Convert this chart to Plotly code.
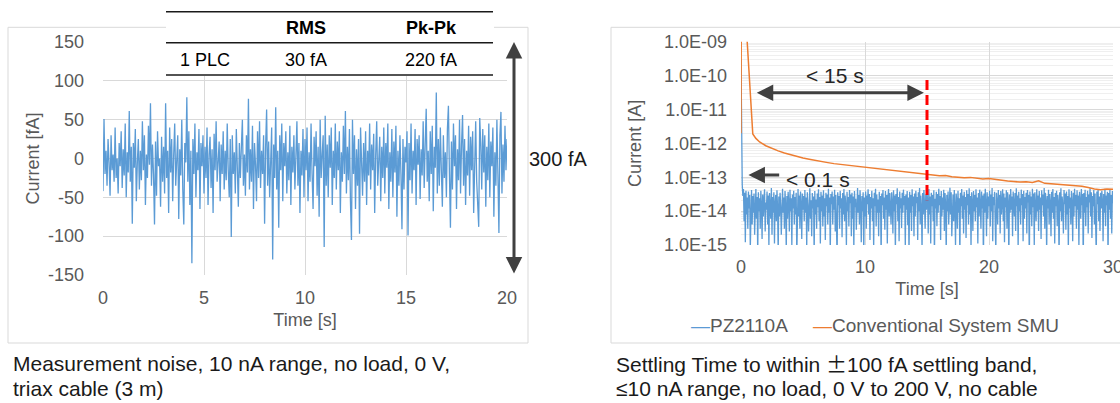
import numpy as np
import plotly.graph_objects as go

W, H = 1120, 403
BLUE = "#5B9BD5"
ORANGE = "#ED7D31"
GRID = "#D9D9D9"
GRAY = "#595959"
DARK = "#404040"
FONT = "Liberation Sans, Arial, sans-serif"

# ---------------- data: measurement noise (left) ----------------
noise_dt = 0.05
noise_fA = [
    -42, 51, -20, 10, -35, 25, -5, -48, 30, -15, 5, -30, 40, -25, 0, -45, 20, -10, 35, -38,
    12, -22, 45, -50, 8, -18, 61, -30, 15, -84, 20, -12, 38, -55, -5, 25, -40, 10, -28, 48,
    -15, 30, -60, 5, -25, 42, -8, 71, -35, 18, -20, -85, 22, -48, 35, -10, 0, -62, 28, -30,
    15, -45, 71, -25, 10, -70, 40, -18, 25, -55, 5, 45, -35, -8, 30, -78, 12, -22, 50, -40,
    -85, 20, -5, 79, -30, 35, -60, 10, -135, 25, -20, 45, -50, 8, -15, 38, -65, 20, -10, 30,
    -45, 15, -25, 40, -60, 5, 28, -38, 12, -70, 32, -15, 48, -30, -5, 22, -55, 18, -20, 35,
    -40, 10, -28, 45, -15, -50, 25, -101, 30, -20, 8, -45, 38, -10, -62, 20, -25, 15, 50, -35,
    5, -48, 30, -18, 77, -40, 12, -30, 42, -65, 20, -8, -55, 35, -25, 48, -38, 10, -20, 30,
    -84, 15, 63, -35, 22, -50, 5, 40, -130, 18, -25, 66, -40, 10, -89, 30, -15, 45, -55, 20,
    -10, 35, -45, 8, -28, 42, -60, 15, -18, 30, -40, 5, 48, -35, 20, -70, 10, -22, 38, -50,
    25, -15, 40, -55, 8, -30, 45, -20, -65, 28, -10, 35, -48, 15, -75, 50, -25, 5, 30, -114,
    55, -35, 18, -50, 30, -12, 40, -60, 10, -25, 45, -40, 22, -15, 35, -70, 8, -30, 42, -20,
    61, -45, 15, -28, 38, -55, -105, 50, -20, 30, -65, 12, -35, 25, -97, 40, -10, -48, 20, -30,
    35, -60, 10, -22, 45, -40, 18, -15, 32, -70, 5, 48, -35, -8, 28, -55, 15, -25, 40, -45,
    20, -12, 45, -65, 8, -30, 38, -50, 22, -18, 42, -75, 10, -35, 30, -20, -91, 25, -40, 15,
    -5, 35, -99, 20, -28, 45, -45, 10, -15, 38, -60, 25, -8, 30, -52, 12, -22, 48, -38, 18,
    64, -30, 10, -55, 35, -20, 42, -68, 15, -12, 85, -45, 25, -35, 40, -15, -62, 30, -25, 8,
    -50, 38, 68, -20, -89, 22, -40, 45, -10, 30, -65, 12, -28, 50, -45, 18, 56, -35, 25, -60,
    10, -22, 42, -48, 28, -15, 35, -70, 5, 48, -30, -55, -88, 52, 20, -40, 38, -18, 30, -62,
    15, -28, 45, -50, 22, -10, 40, -75, 8, -35, 50, -20, -96, 30, 60, -45, 18, -30, 42, -15,
    25,
]
noise_time = np.arange(len(noise_fA)) * noise_dt

# ---------------- data: settling (right) ----------------
settle_dt = 0.05
pz_fA = [
    300000,
    95, 60, 28, 45, 5, 35, 1.2, 40, 8, 25, 3, 38, 12, 30, 0.8, 18, 42, 4, 28, 9,
    33, 2, 14, 45, 6, 26, 0.5, 36, 10, 24, 3, 40, 15, 1.5, 31, 7, 22, 44, 2.5, 18,
    11, 38, 4, 29, 0.9, 34, 13, 6, 48, 2, 26, 9, 36, 1.1, 16, 30, 5, 41, 12, 0.6,
    27, 7, 35, 15, 2, 32, 46, 9, 25, 3, 39, 14, 0.7, 28, 6, 37, 18, 2.5, 43, 10,
    24, 1, 31, 12, 40, 4, 26, 8, 35, 0.5, 17, 45, 7, 29, 3, 38, 15, 1.5, 33, 11,
    28, 5, 42, 9, 25, 0.8, 36, 16, 2.5, 30, 47, 6, 21, 1.8, 34, 12, 27, 0.5, 39, 8,
    22, 3, 33, 13, 44, 5, 26, 1.1, 37, 10, 29, 3.5, 41, 7, 24, 1.4, 35, 14, 31, 4,
    46, 9, 25, 0.6, 32, 16, 38, 4, 27, 11, 43, 2.5, 30, 7, 0.4, 36, 15, 28, 3, 40,
    12, 24, 1.7, 34, 8, 45, 5, 29, 14, 0.9, 37, 10, 26, 3.5, 42, 17, 31, 1.8, 35, 6,
    27, 0.7, 39, 13, 23, 2.8, 33, 48, 9, 30, 4, 41, 15, 1.2, 28, 10, 36, 0.5, 25, 7,
    38, 3, 29, 16, 44, 8, 32, 1.4, 26, 12, 40, 5, 24, 0.8, 35, 14, 46, 3.5, 31, 9,
    22, 1.8, 37, 9, 28, 0.4, 33, 15, 42, 6, 25, 2.8, 39, 11, 30, 1.1, 27, 45, 7, 34,
    13, 4, 36, 18, 2.2, 41, 10, 29, 0.6, 32, 16, 47, 5, 26, 1.3, 38, 12, 24, 3.2, 35,
    9, 43, 15, 28, 0.9, 31, 11, 39, 3.8, 25, 0.5, 37, 9, 30, 2.6, 44, 14, 27, 1.8, 33,
    7, 40, 17, 26, 1.4, 36, 10, 48, 4, 29, 13, 0.7, 34, 8, 42, 16, 3, 31, 11, 38,
    19, 2.2, 45, 8, 27, 1.1, 35, 14, 30, 5, 41, 0.4, 23, 12, 37, 3.6, 32, 9, 46, 15,
    28, 1.4, 39, 7, 25, 11, 43, 2.6, 34, 16, 0.6, 30, 10, 38, 4, 26, 49, 8, 36, 1.8,
    22, 31, 5, 42, 13, 0.9, 33, 21, 3, 40, 9, 24, 0.4, 35, 14, 45, 6, 29, 2.2, 37,
    11, 26, 1.6, 41, 15, 32, 4, 47, 8, 28, 0.8, 36, 18, 2.6, 39, 10, 30, 5, 44, 13,
    25, 1.1, 34, 7, 43, 16, 3, 38, 12, 29, 0.3, 33, 9, 46, 17, 1.8, 36, 6, 27, 14,
    40, 3.5, 31, 10, 48, 1.3, 26, 15, 37, 7, 0.6, 35, 19, 4, 42, 12, 30, 2.2, 39, 8,
    28, 44, 5, 33, 1.2, 25, 13, 41, 3, 36, 17, 0.4, 31, 9, 45, 11, 27, 1.8, 38, 16,
    7, 34, 2.6, 47, 14, 29, 0.8, 37, 10, 24, 4, 43, 15, 32, 1.3, 40, 6, 26, 12, 35,
    2.2, 42, 18, 30, 0.3, 38, 8, 27, 3.6, 46, 13, 33, 1, 36, 16, 5, 44, 10, 29, 2.6,
    39, 11, 25, 1.5, 41, 15, 31, 7, 48, 3, 35, 19, 0.6, 28, 12, 43, 4, 32, 17, 1.8,
    37, 9, 45, 6, 26, 1.1, 34, 14, 40, 3.6, 30, 18, 0.4, 36, 10, 47, 5, 27, 13, 2.2,
    42, 16, 33, 2.8, 38, 8, 28, 0.7, 44, 12, 25, 4, 39, 17, 1.3, 35, 7, 46, 14, 30,
    3, 41, 11, 29, 0.9, 37, 19, 6, 45, 15, 32, 0.3, 34, 9, 43, 3.6, 26, 13, 40, 2.2,
    31, 18, 47, 7, 36, 1.6, 28, 14, 42, 4, 33, 10, 0.5, 38, 16, 44, 5, 27, 2.6, 35,
    12, 40, 20, 1.3, 32, 9, 46, 3.6, 29, 15, 37, 0.4, 34, 11, 43, 6, 30, 2.2, 39, 17,
]
pz_time = np.arange(len(pz_fA)) * settle_dt

conv_time = [0, 0.02, 0.45, 0.95, 1.2, 1.5, 2, 2.5, 3, 3.5, 4, 4.5, 5, 5.5, 6, 6.5, 7, 7.5,
             8, 8.5, 9, 9.5, 10, 10.5, 11, 11.5, 12, 12.5, 13, 13.5, 14, 14.5, 15, 15.5,
             16, 16.5, 17, 17.5, 18, 18.5, 19, 19.5, 20, 20.5, 21, 21.5, 22, 22.5, 23,
             23.5, 24, 24.5, 25, 25.5, 26, 26.5, 27, 27.5, 28, 28.5, 29, 29.5, 30]
conv_fA = [2000, 2000000, 2000000, 1900, 1400, 1100, 850, 700, 600, 520, 460, 410, 370, 340,
           310, 290, 270, 252, 240, 228, 215, 205, 196, 185, 176, 168, 160, 152, 148, 140,
           135, 128, 122, 118, 110, 112, 103, 100, 96, 99, 92, 88, 92, 86, 82, 78, 75, 72,
           73, 70, 78, 66, 64, 62, 60, 57, 56, 54, 50, 45, 43, 45, 44]

settle_mark_time = [15, 15]
settle_mark_A = [7.4e-11, 2.1e-14]

left_yticks = [-150, -100, -50, 0, 50, 100, 150]
left_yticktext = ["-150", "-100", "-50", "0", "50", "100", "150"]
right_yticks = [1e-15, 1e-14, 1e-13, 1e-12, 1e-11, 1e-10, 1e-9]
right_yticktext = ["1.0E-15", "1.0E-14", "1.0E-13", "1.0E-12", "1.0E-11", "1.0E-10", "1.0E-09"]

table_header = ["", "RMS", "Pk-Pk"]
table_row = ["1 PLC", "30 fA", "220 fA"]


def px(x):
    return x / W


def py(y):
    return 1 - y / H


fig = go.Figure()
fig.add_trace(go.Scatter(x=noise_time, y=noise_fA, mode="lines", name="Noise",
                         line=dict(color=BLUE, width=1.3), xaxis="x", yaxis="y",
                         showlegend=False))
fig.add_trace(go.Scatter(x=pz_time, y=np.array(pz_fA) * 1e-15, mode="lines", name="PZ2110A",
                         line=dict(color=BLUE, width=1.3), xaxis="x2", yaxis="y2",
                         showlegend=False))
fig.add_trace(go.Scatter(x=conv_time, y=np.array(conv_fA) * 1e-15, mode="lines",
                         name="Conventional System SMU",
                         line=dict(color=ORANGE, width=1.5), xaxis="x2", yaxis="y2",
                         showlegend=False))
fig.add_trace(go.Scatter(x=settle_mark_time, y=settle_mark_A, mode="lines", name="15 s",
                         line=dict(color="#FF0000", width=3, dash="10px,5px"),
                         xaxis="x2", yaxis="y2", showlegend=False))

tickfont = dict(family=FONT, size=18, color=GRAY)
titlefont = dict(family=FONT, size=18, color=GRAY)
axcommon = dict(showgrid=True, gridcolor=GRID, gridwidth=1, zeroline=False, ticks="",
                showline=False, tickfont=tickfont, automargin=False,
                ticklabeloverflow="allow")

fig.update_layout(
    width=W, height=H, margin=dict(l=0, r=0, t=0, b=0),
    paper_bgcolor="white", plot_bgcolor="rgba(0,0,0,0)",
    showlegend=False,
    xaxis=dict(domain=[px(103), px(507)], range=[0, 20], tickmode="linear", tick0=0, dtick=5,
               anchor="y", ticklabelstandoff=10,
               title=dict(text="Time [s]", font=titlefont, standoff=6), **axcommon),
    yaxis=dict(domain=[py(275), py(42)], range=[-150, 150], tickmode="array",
               tickvals=left_yticks, ticktext=left_yticktext, anchor="x",
               ticklabelstandoff=18,
               title=dict(text="Current [fA]", font=titlefont, standoff=3), **axcommon),
    xaxis2=dict(domain=[px(741), px(1113)], range=[0, 30], tickmode="linear", tick0=0, dtick=10,
                anchor="y2", ticklabelstandoff=9,
                title=dict(text="Time [s]", font=titlefont, standoff=6), **axcommon),
    yaxis2=dict(domain=[py(245), py(41.7)], type="log", range=[-15, -9], tickmode="array",
                tickvals=right_yticks, ticktext=right_yticktext, anchor="x2",
                ticklabelstandoff=13,
                minor=dict(showgrid=True, gridcolor="#EFEFEF", dtick="D1", ticks=""),
                title=dict(text="Current [A]", font=titlefont, standoff=17), **axcommon),
)

shapes = [
    # chart frames
    dict(type="rect", xref="paper", yref="paper", x0=px(8), x1=px(528), y0=py(343), y1=py(27.3),
         line=dict(color=GRID, width=1), fillcolor="rgba(0,0,0,0)", layer="below"),
    dict(type="rect", xref="paper", yref="paper", x0=px(611), x1=px(1130), y0=py(343), y1=py(27.3),
         line=dict(color=GRID, width=1), fillcolor="rgba(0,0,0,0)", layer="below"),
    # table background
    dict(type="rect", xref="paper", yref="paper", x0=px(166), x1=px(494), y0=py(76), y1=py(10),
         line=dict(width=0), fillcolor="white", layer="above"),
]
for yy in (11.7, 42.7, 75):
    shapes.append(dict(type="line", xref="paper", yref="paper", x0=px(166), x1=px(493),
                       y0=py(yy), y1=py(yy), line=dict(color="#1A1A1A", width=1.5), layer="above"))
fig.update_layout(shapes=shapes)

ann = []
col_x = [205, 306, 431]
for cx, h, r in zip(col_x, table_header, table_row):
    if h:
        ann.append(dict(text=f"<b>{h}</b>", x=px(cx), y=py(28.3), xref="paper", yref="paper",
                        showarrow=False, xanchor="center", yanchor="middle",
                        font=dict(family=FONT, size=18, color="#000000")))
    ann.append(dict(text=r, x=px(cx), y=py(60), xref="paper", yref="paper",
                    showarrow=False, xanchor="center", yanchor="middle",
                    font=dict(family=FONT, size=18, color="#000000")))

# 300 fA double arrow (left)
ann.append(dict(x=px(514), y=150, xref="paper", yref="y", ax=0, ay=-150, axref="pixel",
                ayref="y", showarrow=True, text="", arrowhead=2, startarrowhead=2,
                arrowside="end+start", arrowsize=1.1, startarrowsize=1.1, arrowwidth=3,
                arrowcolor=DARK))
ann.append(dict(text="300 fA", x=px(527), y=0, xref="paper", yref="y", showarrow=False,
                xanchor="left", yanchor="middle", font=dict(family=FONT, size=20, color="#1A1A1A")))

# < 15 s arrow (right)
y15 = float(np.log10(3.1e-11))
ann.append(dict(x=14.75, y=y15, xref="x2", yref="y2", ax=1.15, ay=y15, axref="x2", ayref="y2",
                showarrow=True, text="", arrowhead=2, startarrowhead=2, arrowside="end+start",
                arrowsize=1.1, startarrowsize=1.1, arrowwidth=3, arrowcolor=DARK))
ann.append(dict(text="< 15 s", x=7.6, y=float(np.log10(1.0e-10)), xref="x2", yref="y2",
                showarrow=False, xanchor="center", yanchor="middle",
                font=dict(family=FONT, size=21, color="#262626")))
# < 0.1 s arrow
y01 = float(np.log10(1.17e-13))
ann.append(dict(x=0.6, y=y01, xref="x2", yref="y2", ax=3.2, ay=y01, axref="x2", ayref="y2",
                showarrow=True, text="", arrowhead=2, arrowsize=1.1, arrowwidth=3,
                arrowcolor=DARK))
ann.append(dict(text="< 0.1 s", x=3.45, y=float(np.log10(8.3e-14)), xref="x2", yref="y2",
                showarrow=False, xanchor="left", yanchor="middle",
                font=dict(family=FONT, size=21, color="#262626")))

# legend (right)
ann.append(dict(text=f"<span style='color:{BLUE}'>—</span>PZ2110A", x=px(689), y=py(325),
                xref="paper", yref="paper", showarrow=False, xanchor="left", yanchor="middle",
                font=dict(family=FONT, size=19, color=GRAY)))
ann.append(dict(text=f"<span style='color:{ORANGE}'>—</span>Conventional System SMU",
                x=px(811), y=py(325), xref="paper", yref="paper", showarrow=False,
                xanchor="left", yanchor="middle", font=dict(family=FONT, size=19, color=GRAY)))

# captions
captions = [
    (11, 363, "Measurement noise, 10 nA range, no load, 0 V,"),
    (11, 388, "triax cable (3 m)"),
    (614, 363, "Settling Time to within <span style='font-family:Noto Sans CJK JP'>±</span>100 fA settling band,"),
    (614, 388, "≤10 nA range, no load, 0 V to 200 V, no cable"),
]
for cx, cy, t in captions:
    ann.append(dict(text=t, x=px(cx), y=py(cy), xref="paper", yref="paper", showarrow=False,
                    xanchor="left", yanchor="middle",
                    font=dict(family=FONT, size=21, color="#1A1A1A")))

fig.update_layout(annotations=ann)
fig.write_html("out.html", config={"displayModeBar": False},
               post_script="document.body.style.margin='0px';document.body.style.overflow='hidden';")
